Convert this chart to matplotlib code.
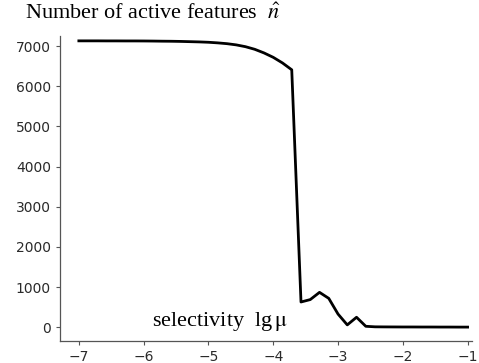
import matplotlib
matplotlib.use('Agg')
import matplotlib.pyplot as plt
import numpy as np

plt.rcParams['mathtext.fontset'] = 'stix'

# sampling grid of lg(mu), 43 points between -7 and -1
lg_mu = np.linspace(-7, -1, 43)
n_active = [7130, 7130, 7130, 7129, 7129, 7128, 7128, 7127, 7125, 7122,
            7120, 7116, 7110, 7104, 7095, 7080, 7060, 7030, 6985, 6920,
            6830, 6720, 6580, 6410, 630, 690, 870, 720, 330, 60,
            250, 25, 12, 10, 9, 8, 8, 7, 7, 6, 6, 5, 5]
xticks = [-7, -6, -5, -4, -3, -2, -1]
yticks = [0, 1000, 2000, 3000, 4000, 5000, 6000, 7000]

fig = plt.figure(figsize=(4.79, 3.63), dpi=100)
ax = fig.add_axes([0.125, 0.0606, 0.860, 0.840])
ax.plot(lg_mu, n_active, color='black', lw=2.0)
ax.set_xlim(-7.293, -0.935)
ax.set_ylim(-341, 7249)
ax.set_xticks(xticks)
ax.set_yticks(yticks)
ax.spines['top'].set_visible(False)
ax.spines['right'].set_visible(False)
for s in ['left', 'bottom']:
    ax.spines[s].set_color('#555555')
    ax.spines[s].set_linewidth(0.9)
ax.tick_params(colors='#555555', labelcolor='#2a2a2a', labelsize=10, length=3, width=0.8)

fig.text(0.052, 0.962, r'Number of active features  $\hat{n}$', family='Liberation Serif',
         fontsize=16, va='center', ha='left')
ax.text(-4.82, 140, r'selectivity  lg$\,\mathrm{\mu}$', family='Liberation Serif',
        fontsize=16, ha='center', va='center')

fig.savefig('out.png', dpi=100)
